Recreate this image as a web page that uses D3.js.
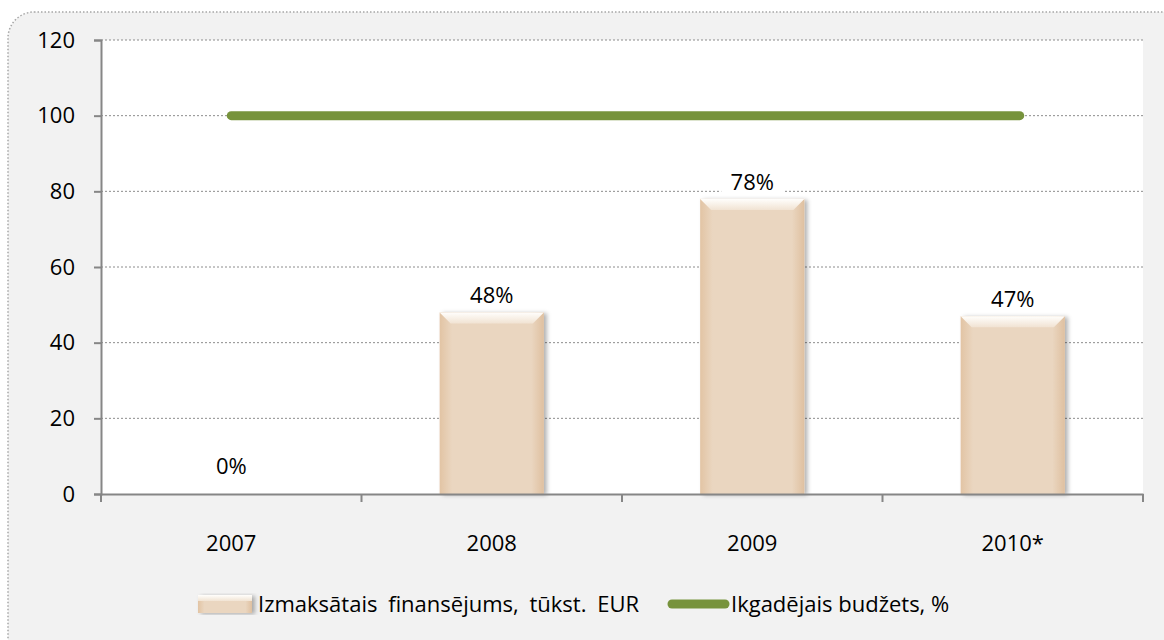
<!DOCTYPE html>
<html>
<head>
<meta charset="utf-8">
<script src="https://cdn.jsdelivr.net/npm/d3@7"></script>
<style>
  body { margin: 0; background: #fff; }
  text { font-family: "Open Sans", "Noto Sans", sans-serif; fill: #000; }
</style>
</head>
<body>
<svg width="1164" height="640"></svg>
<script>
'use strict';

// chart data
const years = ["2007", "2008", "2009", "2010*"];
const paid = [0, 48, 78, 47];
const paidLabels = ["0%", "48%", "78%", "47%"];
const budget = [100, 100, 100, 100];
const yTicks = [0, 20, 40, 60, 80, 100, 120];
const legendNames = ["Izmaksātais finansējums, tūkst. EUR", "Ikgadējais budžets, %"];

const svg = d3.select("svg");
const margin = {left: 101, right: 21, top: 40, bottom: 146};
const width = 1164 - margin.left - margin.right,
      height = 640 - margin.top - margin.bottom;
const fontSize = "22px";

// outer frame
svg.append("rect")
    .attr("x", 8).attr("y", 12)
    .attr("width", 1190).attr("height", 660)
    .attr("rx", 26).attr("ry", 26)
    .attr("fill", "#f2f2f2")
    .attr("stroke", "#a6a6a6")
    .attr("stroke-width", 1.5)
    .attr("stroke-dasharray", "1.5,2");

const defs = svg.append("defs");
const body = defs.append("linearGradient").attr("id", "barBody");
body.append("stop").attr("offset", "0%").attr("stop-color", "#e2c4a4");
body.append("stop").attr("offset", "12%").attr("stop-color", "#ead6c0");
body.append("stop").attr("offset", "88%").attr("stop-color", "#ead6c0");
body.append("stop").attr("offset", "100%").attr("stop-color", "#dfc0a0");

const bevel = defs.append("linearGradient").attr("id", "barTop")
    .attr("x1", 0).attr("y1", 0).attr("x2", 0).attr("y2", 1);
bevel.append("stop").attr("offset", "0%").attr("stop-color", "#fffefc");
bevel.append("stop").attr("offset", "100%").attr("stop-color", "#f1e3d3");

const shadow = defs.append("filter").attr("id", "shadow")
    .attr("x", "-10%").attr("y", "-10%").attr("width", "130%").attr("height", "120%");
shadow.append("feDropShadow")
    .attr("dx", 3).attr("dy", 1).attr("stdDeviation", 2)
    .attr("flood-color", "#000").attr("flood-opacity", 0.3);

const g = svg.append("g").attr("transform", "translate(" + margin.left + "," + margin.top + ")");

g.append("rect").attr("width", width).attr("height", height).attr("fill", "#fff");

const x = d3.scaleBand().domain(years).range([0, width]);
const y = d3.scaleLinear().domain([0, 120]).range([height, 0]);
const barW = x.bandwidth() * 0.4;

// gridlines
g.selectAll(".grid")
    .data(yTicks.filter(d => d > 0))
    .enter().append("line")
    .attr("x1", 0).attr("x2", width)
    .attr("y1", d => y(d)).attr("y2", d => y(d))
    .attr("stroke", "#8c8c8c")
    .attr("stroke-width", 1)
    .attr("stroke-dasharray", "2,2");

// bars
const bars = g.selectAll(".bar")
    .data(paid.map((v, i) => ({year: years[i], v: v})).filter(d => d.v > 0))
    .enter().append("g")
    .attr("filter", "url(#shadow)");

bars.append("rect")
    .attr("x", d => x(d.year) + (x.bandwidth() - barW) / 2)
    .attr("y", d => y(d.v))
    .attr("width", barW)
    .attr("height", d => height - y(d.v))
    .attr("fill", "url(#barBody)");

bars.append("path")
    .attr("d", d => {
        const x0 = x(d.year) + (x.bandwidth() - barW) / 2, x1 = x0 + barW, t = y(d.v), b = 11;
        return "M" + x0 + "," + t + "L" + x1 + "," + t + "L" + (x1 - b) + "," + (t + b) +
            "L" + (x0 + b) + "," + (t + b) + "Z";
    })
    .attr("fill", "url(#barTop)");

// axes
const yAxis = g.append("g").call(d3.axisLeft(y).tickValues(yTicks).tickSize(7).tickPadding(19));
yAxis.select(".domain").attr("stroke", "#868686").attr("stroke-width", 2);
yAxis.selectAll(".tick line").attr("stroke", "#868686").attr("stroke-width", 2);
yAxis.selectAll(".tick text").style("font-size", fontSize).style("font-family", "Open Sans");

const xAxis = g.append("g").attr("transform", "translate(0," + height + ")")
    .call(d3.axisBottom(x).tickSize(0).tickPadding(41));
xAxis.select(".domain").attr("stroke", "#868686").attr("stroke-width", 2);
xAxis.selectAll(".tick text").style("font-size", fontSize).style("font-family", "Open Sans");
g.selectAll(".xtick")
    .data(years.concat([null]))
    .enter().append("line")
    .attr("x1", (d, i) => i * x.step()).attr("x2", (d, i) => i * x.step())
    .attr("y1", height).attr("y2", height + 8)
    .attr("stroke", "#868686").attr("stroke-width", 2);

// budget line
const line = d3.line()
    .x((d, i) => x(years[i]) + x.bandwidth() / 2 + (i === years.length - 1 ? 7 : 0))
    .y(d => y(d));
g.append("path")
    .datum(budget)
    .attr("d", line)
    .attr("fill", "none")
    .attr("stroke", "#77933c")
    .attr("stroke-width", 9)
    .attr("stroke-linecap", "round");

// value labels
const labels = g.selectAll(".lbl")
    .data(paid)
    .enter().append("g")
    .attr("transform", (d, i) => "translate(" + (x(years[i]) + x.bandwidth() / 2) + "," + (y(d) - (d === 0 ? 20 : 9)) + ")");
labels.append("rect")
    .attr("x", -31).attr("y", -26).attr("width", 62).attr("height", 29)
    .attr("fill", "#fff");
labels.append("text")
    .attr("text-anchor", "middle")
    .style("font-size", fontSize)
    .text((d, i) => paidLabels[i]);

// legend
const leg = svg.append("g").attr("transform", "translate(0,604)");
const lb = leg.append("g").attr("filter", "url(#shadow)");
lb.append("rect").attr("x", 198).attr("y", -9).attr("width", 54).attr("height", 18).attr("fill", "url(#barBody)");
lb.append("rect").attr("x", 198).attr("y", -9).attr("width", 54).attr("height", 6).attr("fill", "url(#barTop)");
leg.append("text").attr("x", 258).attr("y", 8)
    .style("font-size", fontSize).style("word-spacing", "5px")
    .text(legendNames[0]);
leg.append("line")
    .attr("x1", 672).attr("x2", 725).attr("y1", 0).attr("y2", 0)
    .attr("stroke", "#77933c").attr("stroke-width", 9).attr("stroke-linecap", "round");
leg.append("text").attr("x", 731).attr("y", 8)
    .style("font-size", fontSize)
    .text(legendNames[1]);
</script>
</body>
</html>
